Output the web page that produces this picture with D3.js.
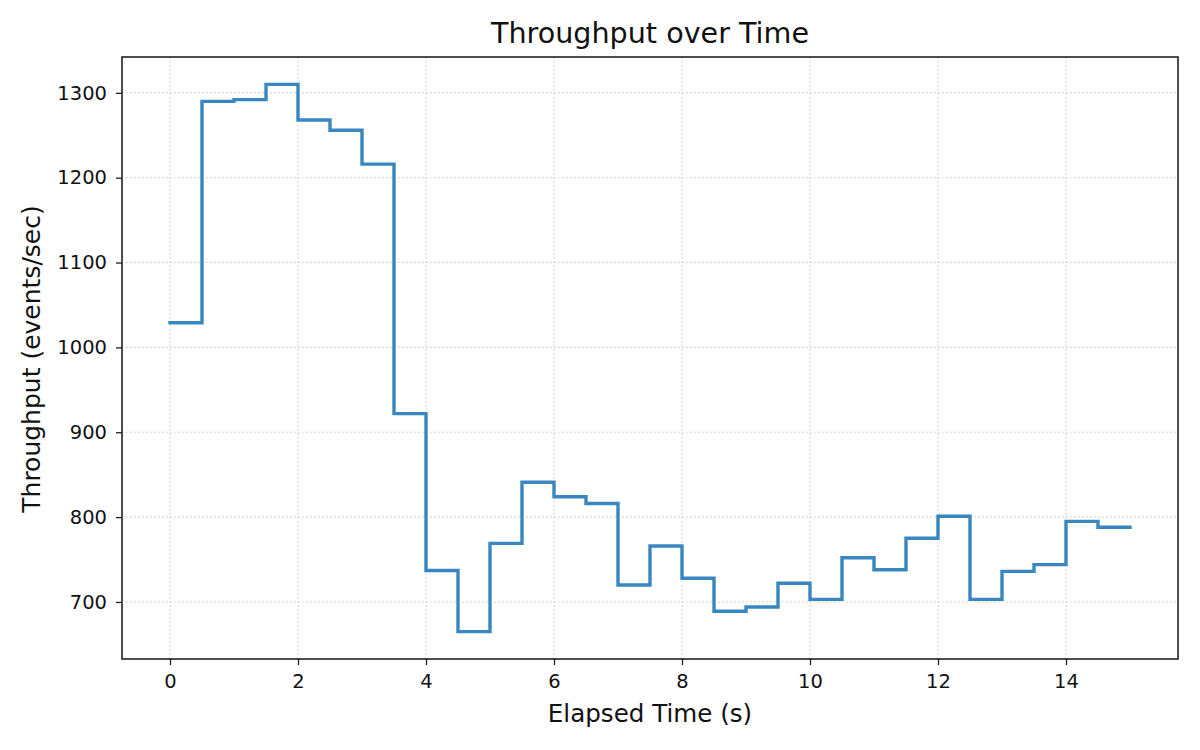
<!DOCTYPE html>
<html>
<head>
<meta charset="utf-8">
<script src="https://cdn.jsdelivr.net/npm/d3@7"></script>
<style>
  body { margin: 0; background: #fff; }
  svg { font-family: "DejaVu Sans", sans-serif; }
</style>
</head>
<body>
<svg id="chart" width="1200" height="750"></svg>
<script>
// elapsed time (s), sampled every 0.5 s
const times = d3.range(0, 15.01, 0.5);
// throughput (events/sec) at each sample; drawn as a post-step line
const throughput = [
  1029, 1290, 1292, 1310, 1268, 1256, 1216, 922, 737, 665,
  769, 841, 824, 816, 720, 766, 728, 689, 694, 722,
  703, 752, 738, 775, 801, 703, 736, 744, 795, 788, 788
];
const xTicks = [0, 2, 4, 6, 8, 10, 12, 14];
const yTicks = [700, 800, 900, 1000, 1100, 1200, 1300];

const margin = {top: 57, right: 22, bottom: 91, left: 122};
const width = 1200, height = 750;

const svg = d3.select('#chart');

const data = times.map((t, i) => ({t: t, v: throughput[i]}));

// matplotlib-style 5% padding around the data
const xExt = d3.extent(times), yExt = d3.extent(throughput);
const xPad = (xExt[1] - xExt[0]) * 0.05, yPad = (yExt[1] - yExt[0]) * 0.05;

const x = d3.scaleLinear()
    .domain([xExt[0] - xPad, xExt[1] + xPad])
    .range([margin.left, width - margin.right]);
const y = d3.scaleLinear()
    .domain([yExt[0] - yPad, yExt[1] + yPad])
    .range([height - margin.bottom, margin.top]);

// grid
const grid = svg.append('g').attr('class', 'grid');
grid.selectAll('line.gx')
    .data(xTicks)
    .join('line')
    .attr('x1', d => x(d)).attr('x2', d => x(d))
    .attr('y1', margin.top).attr('y2', height - margin.bottom);
grid.selectAll('line.gy')
    .data(yTicks)
    .join('line')
    .attr('x1', margin.left).attr('x2', width - margin.right)
    .attr('y1', d => y(d)).attr('y2', d => y(d));
grid.selectAll('line')
    .attr('stroke', '#c8c8c8')
    .attr('stroke-width', 1.1)
    .attr('stroke-dasharray', '1.5,2.5');

// step line
const line = d3.line()
    .x(d => x(d.t))
    .y(d => y(d.v))
    .curve(d3.curveStepAfter);

svg.append('path')
    .datum(data)
    .attr('fill', 'none')
    .attr('stroke', '#3987c0')
    .attr('stroke-width', 3.4)
    .attr('stroke-linejoin', 'miter')
    .attr('stroke-linecap', 'square')
    .attr('d', line);

// axes
const fmt = d3.format('d');
const xAxis = svg.append('g')
    .attr('transform', `translate(0,${height - margin.bottom})`)
    .call(d3.axisBottom(x).tickValues(xTicks).tickFormat(fmt).tickSize(6).tickPadding(9).tickSizeOuter(0));
const yAxis = svg.append('g')
    .attr('transform', `translate(${margin.left},0)`)
    .call(d3.axisLeft(y).tickValues(yTicks).tickFormat(fmt).tickSize(6).tickPadding(9).tickSizeOuter(0));

[xAxis, yAxis].forEach(a => {
    a.select('.domain').remove();
    a.selectAll('.tick line').attr('stroke', '#222').attr('stroke-width', 1.3);
    a.selectAll('.tick text')
        .attr('fill', '#111')
        .style('font-size', '19.5px')
        .style('font-family', '"DejaVu Sans", sans-serif');
});

// frame
svg.append('rect')
    .attr('x', margin.left).attr('y', margin.top)
    .attr('width', width - margin.left - margin.right)
    .attr('height', height - margin.top - margin.bottom)
    .attr('fill', 'none')
    .attr('stroke', '#222')
    .attr('stroke-width', 1.6);

// labels
svg.append('text')
    .attr('x', (margin.left + width - margin.right) / 2)
    .attr('y', 43)
    .attr('text-anchor', 'middle')
    .attr('fill', '#111')
    .style('font-size', '28.6px')
    .text('Throughput over Time');

svg.append('text')
    .attr('x', (margin.left + width - margin.right) / 2)
    .attr('y', 722)
    .attr('text-anchor', 'middle')
    .attr('fill', '#111')
    .style('font-size', '24.6px')
    .text('Elapsed Time (s)');

svg.append('text')
    .attr('transform', `translate(40,${(margin.top + height - margin.bottom) / 2 + 1}) rotate(-90)`)
    .attr('text-anchor', 'middle')
    .attr('fill', '#111')
    .style('font-size', '25px')
    .text('Throughput (events/sec)');
</script>
</body>
</html>
